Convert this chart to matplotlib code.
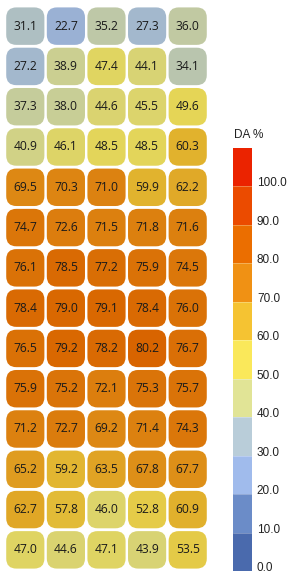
import numpy as np
import matplotlib
matplotlib.use("Agg")
import matplotlib.pyplot as plt
import matplotlib.colors as colors
from matplotlib.patches import FancyBboxPatch

### DA values, row by row (top to bottom)
da = [
    [31.1, 22.7, 35.2, 27.3, 36.0],
    [27.2, 38.9, 47.4, 44.1, 34.1],
    [37.3, 38.0, 44.6, 45.5, 49.6],
    [40.9, 46.1, 48.5, 48.5, 60.3],
    [69.5, 70.3, 71.0, 59.9, 62.2],
    [74.7, 72.6, 71.5, 71.8, 71.6],
    [76.1, 78.5, 77.2, 75.9, 74.5],
    [78.4, 79.0, 79.1, 78.4, 76.0],
    [76.5, 79.2, 78.2, 80.2, 76.7],
    [75.9, 75.2, 72.1, 75.3, 75.7],
    [71.2, 72.7, 69.2, 71.4, 74.3],
    [65.2, 59.2, 63.5, 67.8, 67.7],
    [62.7, 57.8, 46.0, 52.8, 60.9],
    [47.0, 44.6, 47.1, 43.9, 53.5],
]
bin_colors = ["#4a6aad", "#6b8cc8", "#a0bbec", "#b9cdd9", "#e1e496",
              "#fae85a", "#f5c332", "#f09114", "#eb6e00", "#eb4b00", "#eb2300"]
cb_bounds = [0, 10, 20, 30, 40, 50, 60, 70, 80, 90, 100, 110]
cb_ticks = [0, 10, 20, 30, 40, 50, 60, 70, 80, 90, 100]

da = np.array(da)
nrow, ncol = da.shape

fig = plt.figure(figsize=(2.9, 5.76), dpi=100)

### heat grid with rounded cells
ax = fig.add_axes([5/290, 6/576, 203/290, 564/576])
ax.set_xlim(0, ncol)
ax.set_ylim(nrow, 0)
ax.axis('off')

cmap_cells = colors.LinearSegmentedColormap.from_list(
    "cells", list(zip(np.linspace(0, 1, 11), bin_colors)))
norm_cells = colors.Normalize(0, 100)
dark = 0.92
w, h, rr = 0.94, 0.93, 0.25
for i in range(nrow):
    for j in range(ncol):
        c = np.array(cmap_cells(norm_cells(da[i, j]))[:3])*dark
        p = FancyBboxPatch((j+(1-w)/2, i+(1-h)/2), w, h,
                           boxstyle="round,pad=0,rounding_size=%f" % rr,
                           fc=c, ec='none')
        ax.add_patch(p)
        ax.text(j+0.5, i+0.5, "%.1f" % da[i, j], ha='center', va='center',
                fontsize=8.7, color='#1a1a1a', family='Open Sans')

### discrete colorbar
cax = fig.add_axes([233/290, 5/576, 19/290, 423/576])
cmap_bar = colors.ListedColormap(bin_colors)
norm_bar = colors.BoundaryNorm(cb_bounds, cmap_bar.N)
sm = plt.cm.ScalarMappable(norm=norm_bar, cmap=cmap_bar)
cb = fig.colorbar(sm, cax=cax, boundaries=cb_bounds, ticks=cb_ticks)
cb.outline.set_visible(False)
cb.ax.minorticks_off()
cb.ax.tick_params(which='both', length=0, pad=3.5)
cb.ax.set_yticklabels(["%.1f" % t for t in cb_ticks], fontsize=8.5,
                      family='Liberation Sans', color='#222222')
for lab in cb.ax.get_yticklabels():
    lab.set_va('baseline')
for b in cb_bounds[1:-1]:
    cax.axhline(b, color='white', lw=0.4, alpha=0.5)

fig.text(234/290, 1-134.5/576, "DA %", ha='left', va='center', fontsize=8.5,
         family='Liberation Sans', color='#222222')

fig.savefig("out.png", dpi=100)
